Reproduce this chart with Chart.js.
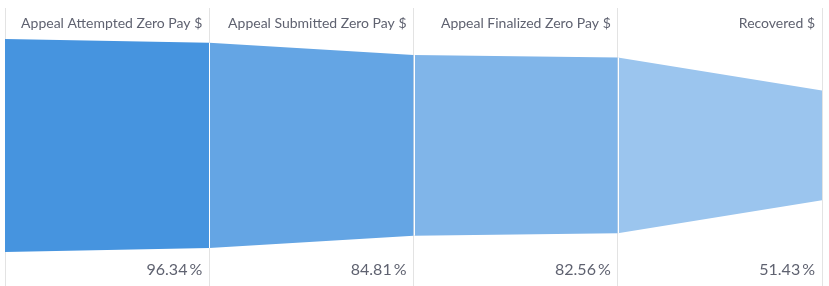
<!DOCTYPE html>
<html>
<head>
<meta charset="utf-8">
<script src="https://cdn.jsdelivr.net/npm/chart.js@4.4.1/dist/chart.umd.min.js"></script>
<style>
  html, body { margin: 0; padding: 0; background: #ffffff; }
  #wrap { width: 829px; height: 286px; position: relative; }
</style>
</head>
<body>
<div id="wrap"><canvas id="c"></canvas></div>
<script>
// ---- data ----
const stageLabels = ["Appeal Attempted Zero Pay $", "Appeal Submitted Zero Pay $", "Appeal Finalized Zero Pay $", "Recovered $"];
const startValue = 100;
const stageValues = [96.34, 84.81, 82.56, 51.43];
const stageColors = ["#4694df", "#64a5e4", "#80b5e9", "#9bc5ee"];

// build datasets: one top + one bottom line per stage, bottom fills to top
const datasets = [];
stageValues.forEach((v, i) => {
  const left = i === 0 ? startValue : stageValues[i - 1];
  const topIndex = datasets.length;
  datasets.push({
    data: [{ x: i, y: left / 2 }, { x: i + 1, y: v / 2 }],
    borderWidth: 0, pointRadius: 0, fill: false, tension: 0
  });
  datasets.push({
    data: [{ x: i, y: -left / 2 }, { x: i + 1, y: -v / 2 }],
    borderWidth: 0, pointRadius: 0, tension: 0,
    fill: { target: topIndex },
    backgroundColor: stageColors[i]
  });
});

const funnelDecor = {
  id: 'funnelDecor',
  afterDatasetsDraw(chart) {
    const { ctx, scales: { x, y } } = chart;
    ctx.save();
    ctx.strokeStyle = '#ffffff';
    ctx.lineWidth = 1;
    for (let i = 1; i < stageValues.length; i++) {
      const px = Math.round(x.getPixelForValue(i)) + 0.5;
      const v = stageValues[i - 1];
      ctx.beginPath();
      ctx.moveTo(px, y.getPixelForValue(v / 2));
      ctx.lineTo(px, y.getPixelForValue(-v / 2));
      ctx.stroke();
    }
    ctx.restore();
  },
  afterDraw(chart) {
    const { ctx, scales: { x } } = chart;
    ctx.save();
    ctx.fillStyle = '#5f6270';
    ctx.textAlign = 'right';
    ctx.textBaseline = 'middle';
    stageLabels.forEach((lab, i) => {
      const px = x.getPixelForValue(i + 1) - 7;
      ctx.font = '14px Lato';
      ctx.fillText(lab, px, 23);
      ctx.font = '16px Lato';
      const pw = ctx.measureText('%').width;
      ctx.fillText('%', px, 270);
      ctx.fillText(stageValues[i].toFixed(2), px - pw - 2, 270);
    });
    ctx.restore();
  }
};

new Chart(document.getElementById('c'), {
  type: 'line',
  data: { datasets },
  options: {
    responsive: true,
    maintainAspectRatio: false,
    animation: false,
    layout: { padding: { left: 5, right: 7, top: 8, bottom: 0 } },
    plugins: { legend: { display: false }, tooltip: { enabled: false } },
    scales: {
      x: {
        type: 'linear', min: 0, max: stageValues.length,
        ticks: { display: false, stepSize: 1 },
        grid: { color: '#e3e3e3', drawTicks: false, lineWidth: 1 },
        border: { display: false }
      },
      y: {
        display: false,
        min: -66, max: 64.5
      }
    }
  },
  plugins: [funnelDecor]
});
</script>
</body>
</html>
